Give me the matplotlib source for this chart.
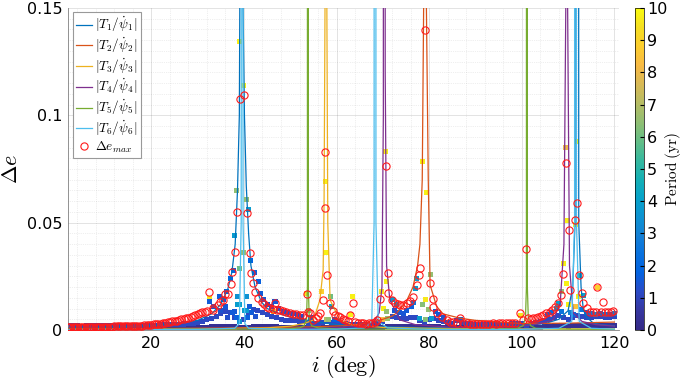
import numpy as np
import matplotlib
matplotlib.use("Agg")
import matplotlib.pyplot as plt
from matplotlib.colors import LinearSegmentedColormap
from matplotlib.ticker import MultipleLocator

plt.rcParams["mathtext.fontset"] = "cm"

# ---- resonance curves |T_k / psidot_k| ----
t1_x = [2, 10, 20, 25, 30, 33, 35, 36.5, 37.4, 38.1, 38.6, 39.0, 39.2, 39.45,
        39.6, 39.8, 40.1, 40.5, 41.0, 41.5, 42.4, 43.8, 45, 47.8, 50, 55, 60, 70,
        80, 90, 100, 105, 108, 110, 111.0, 111.5, 111.9, 112.3, 112.8, 113.3,
        114, 115.4, 117, 120]
t1_y = [0.0008, 0.0012, 0.002, 0.0028, 0.0045, 0.0075, 0.012, 0.019, 0.027, 0.04,
        0.065, 0.10, 0.2, 3.0, 0.25, 0.15, 0.10, 0.067, 0.045, 0.03, 0.02, 0.013,
        0.01, 0.0075, 0.006, 0.004, 0.0025, 0.0015, 0.001, 0.0012, 0.002, 0.003,
        0.005, 0.009, 0.02, 0.05, 3.0, 0.05, 0.02, 0.0093, 0.006, 0.0033, 0.0025,
        0.002]

t2_x = [2, 20, 40, 55, 62, 66, 70, 72, 73, 75, 76.5, 77.5, 78.0, 78.5, 78.8, 79.1,
        79.4, 79.8, 80.2, 80.9, 81.6, 83, 86.7, 90, 100, 110, 120]
t2_y = [0.0005, 0.0007, 0.001, 0.0015, 0.002, 0.003, 0.005, 0.0065, 0.008, 0.013,
        0.02, 0.03, 0.04, 0.07, 0.15, 3.0, 0.15, 0.07, 0.021, 0.016, 0.011,
        0.0075, 0.0055, 0.0045, 0.003, 0.0032, 0.0037]

t3_x = [2, 30, 40, 45, 50, 53, 55.0, 56.4, 57.1, 57.3, 57.5, 57.7, 57.9, 58.1,
        58.6, 60.7, 63.6, 70, 80, 90, 100, 110, 120]
t3_y = [0.0003, 0.0005, 0.0008, 0.001, 0.0018, 0.003, 0.0047, 0.014, 0.028, 0.06,
        0.15, 3.0, 0.15, 0.05, 0.014, 0.0047, 0.0023, 0.0012, 0.0008, 0.0006,
        0.0005, 0.0005, 0.0005]

t4_x = [2, 30, 50, 60, 65, 68, 69.2, 69.8, 70.1, 70.3, 70.5, 70.8, 71.5, 73.7, 77,
        85, 95, 100, 104, 106.8, 108.3, 109.1, 109.5, 109.7, 109.9, 110.3, 111.1,
        113, 116, 120]
t4_y = [0.0002, 0.0003, 0.0006, 0.001, 0.0018, 0.0035, 0.008, 0.02, 0.1, 3.0,
        0.12, 0.03, 0.014, 0.0047, 0.0025, 0.0012, 0.0012, 0.0018, 0.003, 0.0047,
        0.0125, 0.04, 0.15, 3.0, 0.15, 0.03, 0.008, 0.004, 0.0025, 0.0018]

t5_x = [2, 40, 50, 52, 53, 53.5, 53.7, 53.8, 53.9, 54.1, 54.6, 56, 60, 80, 95, 99,
        100.3, 100.8, 101.0, 101.1, 101.2, 101.4, 101.9, 103, 110, 120]
t5_y = [0.0003, 0.0004, 0.0006, 0.001, 0.002, 0.005, 0.02, 3.0, 0.02, 0.005,
        0.002, 0.001, 0.0005, 0.0003, 0.0004, 0.0008, 0.002, 0.006, 0.02, 3.0,
        0.02, 0.006, 0.002, 0.0008, 0.0004, 0.0003]

t6_x = [2, 30, 38, 39.0, 39.4, 39.6, 39.8, 40.2, 41, 50, 60, 66, 67.6, 68.1, 68.3,
        68.5, 69.0, 71, 80, 100, 108, 110.8, 111.4, 111.6, 111.8, 112.4, 115, 120]
t6_y = [0.0002, 0.0003, 0.0008, 0.003, 0.05, 3.0, 0.05, 0.003, 0.0008, 0.0003,
        0.0004, 0.001, 0.004, 0.05, 3.0, 0.05, 0.004, 0.001, 0.0003, 0.0003,
        0.0008, 0.004, 0.05, 3.0, 0.05, 0.004, 0.0008, 0.0004]

# ---- Delta e_max (red circles) ----
circ_row_x = np.arange(2, 32.5, 0.5)
circ_row_y = [0.0015, 0.0015, 0.0015, 0.0015, 0.0015, 0.0015, 0.0015, 0.0015,
              0.0015, 0.0015, 0.0015, 0.0015, 0.0015, 0.0015, 0.0015, 0.0015,
              0.0015, 0.0016, 0.0016, 0.0016, 0.0017, 0.0017, 0.0017, 0.0018,
              0.0018, 0.0018, 0.0019, 0.0019, 0.0019, 0.002, 0.002, 0.002,
              0.0021, 0.0022, 0.0023, 0.0024, 0.0025, 0.0026, 0.0027, 0.0029,
              0.003, 0.0032, 0.0034, 0.0036, 0.0038, 0.004, 0.0042, 0.0044,
              0.0046, 0.0049, 0.0052, 0.0055, 0.0058, 0.0062, 0.0065, 0.007,
              0.0075, 0.0078, 0.0082, 0.0086, 0.009]
circ_x = [32.5, 33.3, 33.4, 34.4, 34.8, 35.5, 35.9, 36.6, 37.1, 37.4, 38.1, 38.6,
          39.1, 40.1, 40.6, 41.2, 41.5, 42.0, 42.4, 43.0, 43.8, 44.4, 44.9, 45.5,
          46.2, 46.7, 47.2, 47.8, 48.4, 49.0, 49.9, 50.5, 51.2, 52.1, 52.8, 53.6,
          53.9, 54.3, 55.0, 55.5, 56.0, 56.5, 57.1, 57.5, 57.6, 57.9, 58.6, 59.2,
          59.7, 60.2, 60.7, 61.3, 61.9, 62.4, 62.9, 63.5, 64.0, 64.6, 65.2, 65.8,
          66.4, 67.0, 67.6, 68.2, 68.8, 69.4, 70.6, 71.0, 71.2, 71.9, 72.6, 73.2,
          73.7, 74.4, 75.1, 75.8, 76.6, 77.3, 77.7, 78.0, 79.1, 80.2, 80.8, 80.9,
          81.6, 82.7, 83.8, 84.5, 85.2, 85.9, 86.7, 87.4, 88.1, 88.8, 89.5, 90.2,
          90.9, 91.6, 92.3, 93.0, 93.7, 94.4, 95.1, 95.8, 96.5, 97.2, 97.9, 98.6,
          99.6, 100.3, 100.9, 101.4, 102.0, 102.5, 103.1, 103.6, 104.1, 104.6,
          105.3, 106.1, 106.6, 107.1, 107.9, 108.4, 109.0, 109.5, 110.1, 110.4,
          111.5, 112.0, 112.4, 112.9, 113.3, 114.0, 114.7, 115.4, 116.0, 116.3,
          117.0, 117.5, 118.0, 118.6, 119.2, 119.8]
circ_y = [0.0179, 0.0093, 0.0101, 0.0117, 0.0132, 0.014, 0.017, 0.017, 0.0214,
          0.027, 0.0365, 0.0548, 0.1078, 0.1097, 0.0544, 0.036, 0.0267, 0.0217,
          0.0178, 0.015, 0.0132, 0.012, 0.0109, 0.0102, 0.0097, 0.0127, 0.0095,
          0.0093, 0.0088, 0.0083, 0.0078, 0.0075, 0.0073, 0.007, 0.0068, 0.017,
          0.0085, 0.008, 0.0047, 0.0055, 0.0065, 0.0078, 0.014, 0.083, 0.057,
          0.0256, 0.0125, 0.009, 0.007, 0.0066, 0.0062, 0.005, 0.0045, 0.004,
          0.007, 0.0127, 0.0035, 0.0033, 0.0032, 0.0031, 0.003, 0.0031, 0.0033,
          0.0038, 0.0048, 0.0145, 0.0766, 0.0264, 0.0174, 0.014, 0.0125, 0.012,
          0.0117, 0.0116, 0.0124, 0.0135, 0.0155, 0.021, 0.0256, 0.0287, 0.1398,
          0.0217, 0.0143, 0.0109, 0.0078, 0.0062, 0.0047, 0.0037, 0.0035, 0.0034,
          0.0054, 0.0032, 0.0031, 0.0028, 0.0026, 0.0027, 0.0029, 0.0028, 0.0029,
          0.003, 0.0031, 0.003, 0.0031, 0.0031, 0.0032, 0.0032, 0.0033, 0.0033,
          0.0078, 0.0045, 0.0376, 0.0054, 0.0052, 0.0054, 0.0057, 0.006, 0.0064,
          0.007, 0.0078, 0.0085, 0.0095, 0.0105, 0.0124, 0.0163, 0.0261, 0.0777,
          0.0466, 0.0186, 0.0513, 0.0594, 0.0256, 0.0171, 0.0124, 0.0101, 0.0085,
          0.0082, 0.0085, 0.0199, 0.0082, 0.0129, 0.0084, 0.0086, 0.0085, 0.0088]

# ---- simulation squares coloured by period (yr) ----
band_x = np.arange(2, 121, 1)
band_lo = [0.0011, 0.0011, 0.0011, 0.0011, 0.0011, 0.0011, 0.0011, 0.0011, 0.0011, 0.0011,
           0.0011, 0.0011, 0.0011, 0.0011, 0.0011, 0.0011, 0.0011, 0.0011, 0.0011, 0.0011,
           0.0011, 0.0011, 0.0011, 0.0011, 0.0011, 0.0011, 0.0011, 0.0012, 0.0012, 0.0013,
           0.0014, 0.0015, 0.0016, 0.0017, 0.0018, 0.0018, 0.0016, 0.0013, 0.0012, 0.0013,
           0.0016, 0.0018, 0.0018, 0.0017, 0.0016, 0.0015, 0.0014, 0.0014, 0.0013, 0.0013,
           0.0013, 0.0013, 0.0012, 0.0012, 0.0012, 0.0012, 0.0013, 0.0013, 0.0013, 0.0012,
           0.0012, 0.0012, 0.0012, 0.0012, 0.0012, 0.0012, 0.0012, 0.0013, 0.0013, 0.0015,
           0.0017, 0.0017, 0.0016, 0.0016, 0.0016, 0.0016, 0.0015, 0.0014, 0.0015, 0.0016,
           0.0015, 0.0014, 0.0013, 0.0013, 0.0013, 0.0012, 0.0012, 0.0012, 0.0012, 0.0012,
           0.0012, 0.0012, 0.0012, 0.0012, 0.0012, 0.0012, 0.0012, 0.0012, 0.0012, 0.0011,
           0.0012, 0.0013, 0.0014, 0.0015, 0.0017, 0.0019, 0.002, 0.0019, 0.0018, 0.0019,
           0.002, 0.002, 0.0019, 0.0019, 0.002, 0.002, 0.0019, 0.0019, 0.002]
band_hi = [0.0019, 0.002, 0.0019, 0.0018, 0.0019, 0.002, 0.0019, 0.0019, 0.002, 0.002,
           0.002, 0.0021, 0.002, 0.0021, 0.0021, 0.0022, 0.0022, 0.0022, 0.0023, 0.0023,
           0.0024, 0.0025, 0.0025, 0.0026, 0.0027, 0.0028, 0.003, 0.0032, 0.0035, 0.004,
           0.0048, 0.0055, 0.0065, 0.0075, 0.0085, 0.008, 0.006, 0.004, 0.005, 0.008,
           0.0095, 0.009, 0.008, 0.007, 0.0062, 0.0056, 0.005, 0.0046, 0.0043, 0.0042,
           0.004, 0.0038, 0.003, 0.0032, 0.003, 0.0034, 0.0038, 0.0036, 0.0033, 0.003,
           0.0028, 0.0026, 0.0026, 0.0025, 0.0025, 0.0027, 0.003, 0.0035, 0.0038, 0.0055,
           0.0065, 0.006, 0.0055, 0.0055, 0.006, 0.006, 0.0045, 0.0035, 0.005, 0.0055,
           0.0045, 0.004, 0.0035, 0.0032, 0.0045, 0.0035, 0.003, 0.0028, 0.0027, 0.0027,
           0.0027, 0.0027, 0.0026, 0.0026, 0.0027, 0.0027, 0.0028, 0.003, 0.003, 0.0022,
           0.003, 0.0035, 0.004, 0.0045, 0.005, 0.006, 0.0068, 0.006, 0.005, 0.006,
           0.0068, 0.0065, 0.006, 0.0058, 0.0062, 0.0065, 0.006, 0.0058, 0.0062]
band_lo_period = 0.3
band_hi_period = 1.1

sq_x = [32.5, 32.5, 33.5, 34.8, 35.5, 36.3, 37.0, 37.7, 37.9, 37.9, 38.6, 38.7,
        39.1, 39.1, 39.1, 38.4, 39.0, 40.0, 39.9, 40.1, 40.6, 40.5, 40.6, 41.0,
        41.3, 41.5, 42.2, 43.1, 43.5, 44.2, 45.0, 46.0, 46.7, 46.4, 47.5, 48.5,
        49.5, 50.5, 51.5, 52.5, 36.5, 37.5, 38.3, 40.8, 41.6, 42.5, 35.0, 36.0,
        53.6, 53.9, 54.3, 56.8, 57.9, 57.5, 58.6, 58.9, 57.9, 58.2, 63.5, 62.9,
        59.5, 60.5,
        70.6, 70.7, 69.7, 70.1, 71.0, 70.0, 70.8, 72.0, 73.0, 72.5, 73.5, 74.5,
        75.1, 76.2, 76.6, 77.0, 77.3,
        78.6, 79.5, 80.2, 79.1, 78.6, 79.8, 77.9, 79.1, 80.5, 81.3, 82.0, 83.0,
        86.7, 99.7,
        109.5, 111.8, 109.8, 111.5, 109.0, 109.6, 108.6, 112.3, 110.1, 111.7,
        112.4, 107.9, 107.5, 116.3, 113.3, 113.0, 114.0, 115.0, 116.0, 117.0,
        118.0, 119.0, 120.0, 106.5, 105.5, 108.5, 110.5, 111.2]
sq_y = [0.0145, 0.0132, 0.011, 0.0155, 0.014, 0.0178, 0.024, 0.0277, 0.0085,
        0.044, 0.0155, 0.0117, 0.0117, 0.0287, 0.0039, 0.0649, 0.1343, 0.1138,
        0.036, 0.0093, 0.0155, 0.0093, 0.061, 0.056, 0.0109, 0.0326, 0.0267,
        0.0225, 0.0168, 0.014, 0.012, 0.011, 0.0132, 0.0088, 0.010, 0.0088,
        0.008, 0.0075, 0.007, 0.0065, 0.006, 0.008, 0.006, 0.006, 0.008, 0.0065,
        0.009, 0.011,
        0.017, 0.0093, 0.006, 0.0179, 0.036, 0.069, 0.0155, 0.0109, 0.0047,
        0.0047, 0.0158, 0.007, 0.005, 0.0045,
        0.0831, 0.0225, 0.0179, 0.0101, 0.0054, 0.0047, 0.0085, 0.0143, 0.0117,
        0.009, 0.008, 0.0075, 0.0093, 0.0109, 0.013, 0.0194, 0.024,
        0.0786, 0.064, 0.026, 0.014, 0.0117, 0.0096, 0.0054, 0.0051, 0.0054,
        0.0085, 0.007, 0.006, 0.005, 0.0068,
        0.085, 0.0877, 0.051, 0.049, 0.031, 0.0217, 0.0179, 0.0155, 0.0117,
        0.0109, 0.0256, 0.0124, 0.0101, 0.0199, 0.0163, 0.0095, 0.008, 0.0075,
        0.007, 0.0075, 0.007, 0.0072, 0.0075, 0.008, 0.007, 0.0085, 0.008, 0.007]
sq_period = [9.5, 1.6, 1.5, 1.6, 1.6, 1.8, 1.8, 1.8, 1.5, 3.8, 3.5, 3.8, 4.0, 6.0,
             3.5, 6.5, 9.8, 9.8, 6.5, 4.0, 3.5, 3.8, 6.5, 3.8, 1.6, 1.8, 1.8, 1.7,
             1.6, 1.5, 1.4, 1.4, 1.5, 9.0, 1.3, 1.3, 1.2, 1.2, 1.2, 1.2, 1.3, 1.6,
             1.7, 1.7, 1.6, 1.4, 1.4, 1.5,
             9.5, 6.5, 2.0, 8.8, 9.8, 9.8, 6.0, 4.0, 7.0, 6.5, 9.8, 9.8, 1.8, 1.6,
             9.8, 9.8, 9.6, 9.8, 6.5, 8.2, 6.5, 3.8, 3.8, 1.6, 1.5, 1.5, 1.6, 1.7,
             2.5, 3.8, 3.8,
             9.8, 9.8, 6.5, 9.6, 6.3, 6.5, 3.8, 6.3, 3.8, 1.6, 1.5, 1.4, 1.5, 9.5,
             8.0, 9.8, 9.8, 9.8, 9.8, 9.8, 6.5, 9.8, 9.8, 8.5, 4.5, 4.0, 3.8, 8.8,
             4.0, 2.5, 2.0, 2.5, 3.0, 2.2, 2.5, 2.0, 2.8, 2.0, 1.8, 2.5, 3.0, 2.0]

line_labels = [r"$|T_1/\dot{\psi}_1|$", r"$|T_2/\dot{\psi}_2|$", r"$|T_3/\dot{\psi}_3|$",
               r"$|T_4/\dot{\psi}_4|$", r"$|T_5/\dot{\psi}_5|$", r"$|T_6/\dot{\psi}_6|$"]
line_colors = [(0.0, 0.447, 0.741), (0.850, 0.325, 0.098), (0.929, 0.694, 0.125),
               (0.494, 0.184, 0.556), (0.466, 0.674, 0.188), (0.301, 0.745, 0.933)]

parula = LinearSegmentedColormap.from_list("parula", [
    (0.2081, 0.1663, 0.5292), (0.2123, 0.2138, 0.6270), (0.1707, 0.2919, 0.7792),
    (0.0117, 0.3875, 0.8820), (0.0329, 0.4430, 0.8720), (0.0779, 0.5040, 0.8384),
    (0.0488, 0.5772, 0.8228), (0.0231, 0.6418, 0.7913), (0.0843, 0.6928, 0.7062),
    (0.2178, 0.7250, 0.6193), (0.3953, 0.7459, 0.5244), (0.5709, 0.7485, 0.4494),
    (0.7184, 0.7411, 0.3905), (0.8507, 0.7299, 0.3360), (0.9739, 0.7314, 0.2666),
    (0.9880, 0.8066, 0.1794), (0.9626, 0.8705, 0.1309), (0.9763, 0.9831, 0.0538)])

fig = plt.figure(figsize=(6.85, 3.82), dpi=100)
ax = fig.add_axes([0.0993, 0.1361, 0.8044, 0.8429])
cax = fig.add_axes([0.927, 0.1361, 0.0135, 0.8429])

sq_kw = dict(marker="s", s=13, cmap=parula, vmin=0, vmax=10, linewidths=0, zorder=2)
ax.scatter(band_x, band_lo, c=[band_lo_period] * len(band_x), **sq_kw)
ax.scatter(band_x, band_hi, c=[band_hi_period] * len(band_x), **sq_kw)
sc = ax.scatter(sq_x, sq_y, c=sq_period, **sq_kw)

curves = [(t1_x, t1_y), (t2_x, t2_y), (t3_x, t3_y), (t4_x, t4_y), (t5_x, t5_y), (t6_x, t6_y)]
for (cx, cy), lab, col in zip(curves, line_labels, line_colors):
    ax.plot(cx, cy, color=col, lw=0.9, label=lab, zorder=3)

ax.plot(list(circ_row_x) + circ_x, circ_row_y + circ_y, "o", ls="none", ms=5.2,
        mfc="none", mec=(1.0, 0.1, 0.1), mew=0.8, label=r"$\Delta e_{max}$", zorder=4)

ax.set_xlim(2, 121)
ax.set_ylim(0, 0.15)
ax.set_xticks([20, 40, 60, 80, 100, 120])
ax.set_yticks([0, 0.05, 0.1, 0.15])
ax.set_yticklabels(["0", "0.05", "0.1", "0.15"])
ax.xaxis.set_minor_locator(MultipleLocator(4))
ax.yaxis.set_minor_locator(MultipleLocator(0.005))
ax.grid(True, which="major", color=(0.15, 0.15, 0.15), alpha=0.15, lw=0.6)
ax.grid(True, which="minor", color=(0.15, 0.15, 0.15), alpha=0.15, lw=0.5, ls=":")
ax.set_axisbelow(True)
ax.tick_params(which="both", direction="in", labelsize=11.5, length=0, pad=4)
for side in ["top", "right"]:
    ax.spines[side].set_visible(False)
ax.spines["left"].set_color((0.5, 0.5, 0.5))
ax.spines["bottom"].set_color((0.5, 0.5, 0.5))
ax.spines["left"].set_linewidth(0.6)
ax.spines["bottom"].set_linewidth(0.6)

ax.set_xlabel(r"$i\ \mathrm{(deg)}$", fontsize=16, labelpad=2)
ax.set_ylabel(r"$\Delta e$", fontsize=16, labelpad=4)

leg = ax.legend(loc="upper left", fontsize=9.5, handlelength=1.2, handletextpad=0.25,
                borderpad=0.25, labelspacing=0.12, framealpha=1, fancybox=False,
                borderaxespad=0, bbox_to_anchor=(0.009, 0.988))
leg.get_frame().set_edgecolor((0.6, 0.6, 0.6))
leg.get_frame().set_linewidth(0.8)

cb = fig.colorbar(sc, cax=cax, ticks=range(0, 11))
cb.outline.set_linewidth(0.5)
cb.ax.tick_params(labelsize=11.5, length=3, direction="in", pad=2)
cb.set_label(r"$\mathrm{Period\ (yr)}$", fontsize=11, rotation=90)
cb.ax.yaxis.label.set_va("center")
cb.ax.yaxis.set_label_coords(4.1, 0.5)

fig.savefig("out.png", dpi=100)
